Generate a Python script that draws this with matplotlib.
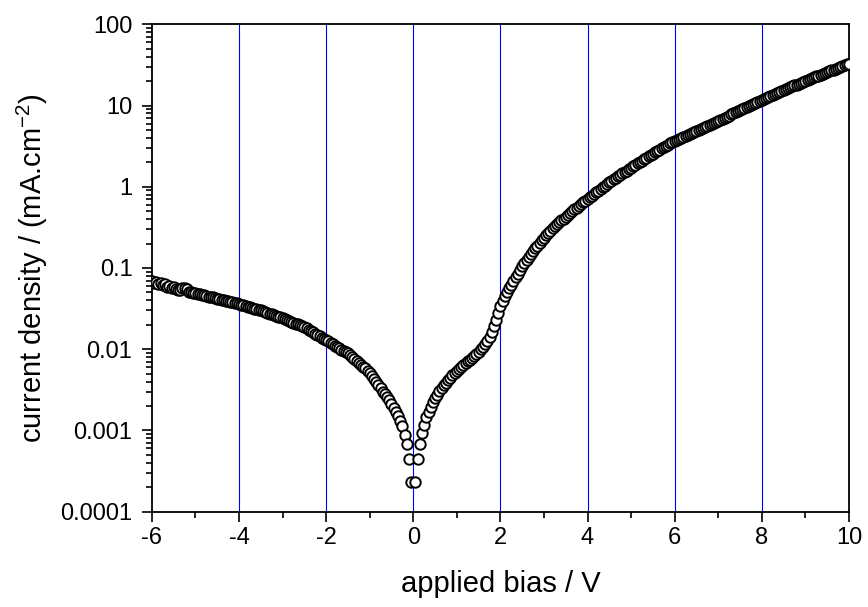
import numpy as np
import matplotlib
matplotlib.use("Agg")
import matplotlib.pyplot as plt
from matplotlib.ticker import LogLocator, MultipleLocator, NullFormatter

plt.rcParams['font.family'] = ['Liberation Sans', 'DejaVu Sans']
plt.rcParams['axes.unicode_minus'] = False
plt.rcParams['mathtext.fontset'] = 'custom'
plt.rcParams['mathtext.rm'] = 'Liberation Sans'
plt.rcParams['mathtext.default'] = 'regular'

# bias sweep (V), 0.05 V steps; 0 V itself is off-scale on the log axis
bias_neg = np.linspace(-6.0, -0.05, 120)
bias_pos = np.linspace(0.05, 10.0, 200)

# current density (mA/cm2), reverse branch -6 ... -0.05 V
j_neg = [
    0.070, 0.066, 0.068, 0.064, 0.065, 0.061, 0.063, 0.059, 0.060, 0.057,
    0.058, 0.055, 0.054, 0.053, 0.056, 0.057, 0.055, 0.051, 0.050, 0.0495,
    0.049, 0.048, 0.0478, 0.0465, 0.046, 0.0455, 0.0445, 0.044, 0.0435, 0.0425,
    0.042, 0.0415, 0.0405, 0.0402, 0.0394, 0.0389, 0.0381, 0.0377, 0.037, 0.0366,
    0.036, 0.0354, 0.0346, 0.0341, 0.0333, 0.0329, 0.0321, 0.0317, 0.031, 0.0306,
    0.030, 0.0294, 0.0287, 0.0281, 0.0275, 0.0268, 0.0262, 0.0257, 0.0251, 0.0246,
    0.024, 0.0234, 0.0228, 0.0223, 0.0217, 0.0212, 0.0207, 0.0202, 0.0197, 0.0192,
    0.0187, 0.018, 0.0174, 0.0167, 0.0161, 0.0155, 0.015, 0.0144, 0.0139, 0.0134,
    0.013, 0.0125, 0.012, 0.0116, 0.0111, 0.0107, 0.0103, 0.0099, 0.0096, 0.0092,
    0.0089, 0.0084, 0.008, 0.0075, 0.0071, 0.0068, 0.0064, 0.0061, 0.0058, 0.0054,
    0.0051, 0.0047, 0.0043, 0.0039, 0.0036, 0.0033, 0.0030, 0.0028, 0.00255, 0.00234,
    0.00214, 0.0019, 0.0017, 0.0015, 0.00132, 0.00115, 0.00089, 0.00068, 0.00045, 0.00023,
]

# forward branch 0.05 ... 10 V
j_pos = [
    0.000229, 0.000447, 0.000676, 0.000933, 0.00118, 0.00145, 0.0017, 0.00195, 0.00224, 0.00251,
    0.00275, 0.00302, 0.00331, 0.00363, 0.00389, 0.00417, 0.00447, 0.00479, 0.00507, 0.00537,
    0.00569, 0.00603, 0.00631, 0.00668, 0.00708, 0.00741, 0.00785, 0.00832, 0.00881, 0.00933,
    0.0100, 0.0107, 0.0115, 0.0126, 0.0141, 0.0162, 0.0191, 0.0229, 0.0279, 0.0339,
    0.0389, 0.0447, 0.0501, 0.0562, 0.0624, 0.0692, 0.0767, 0.0851, 0.0944, 0.105,
    0.115, 0.126, 0.137, 0.149, 0.162, 0.175, 0.189, 0.204, 0.220, 0.236,
    0.253, 0.270, 0.288, 0.307, 0.326, 0.345, 0.365, 0.386, 0.406, 0.429,
    0.451, 0.474, 0.499, 0.525, 0.552, 0.581, 0.611, 0.641, 0.673, 0.706,
    0.741, 0.778, 0.815, 0.855, 0.895, 0.938, 0.982, 1.03, 1.08, 1.13,
    1.18, 1.23, 1.28, 1.34, 1.40, 1.46, 1.52, 1.58, 1.65, 1.72,
    1.79, 1.87, 1.95, 2.02, 2.10, 2.19, 2.28, 2.37, 2.46, 2.56,
    2.66, 2.75, 2.86, 2.97, 3.08, 3.18, 3.30, 3.41, 3.53, 3.66,
    3.77, 3.88, 4.00, 4.12, 4.25, 4.38, 4.51, 4.65, 4.78, 4.91,
    5.06, 5.20, 5.35, 5.50, 5.65, 5.81, 5.97, 6.14, 6.31, 6.49,
    6.68, 6.89, 7.10, 7.31, 7.53, 7.76, 8.00, 8.24, 8.49, 8.75,
    9.02, 9.29, 9.57, 9.86, 10.2, 10.5, 10.8, 11.1, 11.5, 11.8,
    12.1, 12.5, 12.8, 13.2, 13.5, 13.9, 14.3, 14.6, 15.0, 15.5,
    15.9, 16.3, 16.7, 17.2, 17.7, 18.1, 18.6, 19.1, 19.6, 20.2,
    20.7, 21.2, 21.7, 22.2, 22.8, 23.3, 23.9, 24.5, 25.1, 25.7,
    26.4, 27.0, 27.7, 28.3, 29.0, 29.7, 30.5, 31.2, 32.0, 32.7,
]

x_ticks = [-6, -4, -2, 0, 2, 4, 6, 8, 10]
grid_x = [-4, -2, 0, 2, 4, 6, 8]
y_ticks = [1e-4, 1e-3, 1e-2, 1e-1, 1, 10, 100]
y_labels = ['0.0001', '0.001', '0.01', '0.1', '1', '10', '100']

bias = np.concatenate([bias_neg, bias_pos])
j = np.array(j_neg + j_pos)

fig = plt.figure(figsize=(8.68, 6.07), dpi=100)
ax = fig.add_axes([0.175, 0.157, 0.803, 0.803])

for gx in grid_x:
    ax.axvline(gx, color='#0000ff', lw=0.8, zorder=1)

ax.plot(bias, j, linestyle='none', marker='o', markersize=7.5,
        markerfacecolor='white', markeredgecolor='black',
        markeredgewidth=1.4, zorder=3)

ax.set_yscale('log')
ax.set_xlim(-6, 10)
ax.set_ylim(1e-4, 100)

ax.set_xticks(x_ticks)
ax.set_xticklabels([str(v) for v in x_ticks])
ax.xaxis.set_minor_locator(MultipleLocator(1))
ax.set_yticks(y_ticks)
ax.set_yticklabels(y_labels)
ax.yaxis.set_minor_locator(LogLocator(base=10, subs=np.arange(2, 10)))
ax.yaxis.set_minor_formatter(NullFormatter())

ax.tick_params(which='major', direction='out', length=7, width=1.2,
               labelsize=17)
ax.tick_params(which='minor', direction='out', length=4, width=1.2)
ax.tick_params(axis='x', which='major', pad=4)
ax.tick_params(axis='y', which='major', pad=7)
for s in ax.spines.values():
    s.set_linewidth(1.3)

ax.set_xlabel('applied bias / V', fontsize=21)
ax.set_ylabel('current density / (mA.cm$^{\\mathrm{-2}}$)', fontsize=21)
ax.xaxis.set_label_coords(0.5, -0.119)
ax.yaxis.set_label_coords(-0.146, 0.5)

fig.savefig('out.png', dpi=100)
